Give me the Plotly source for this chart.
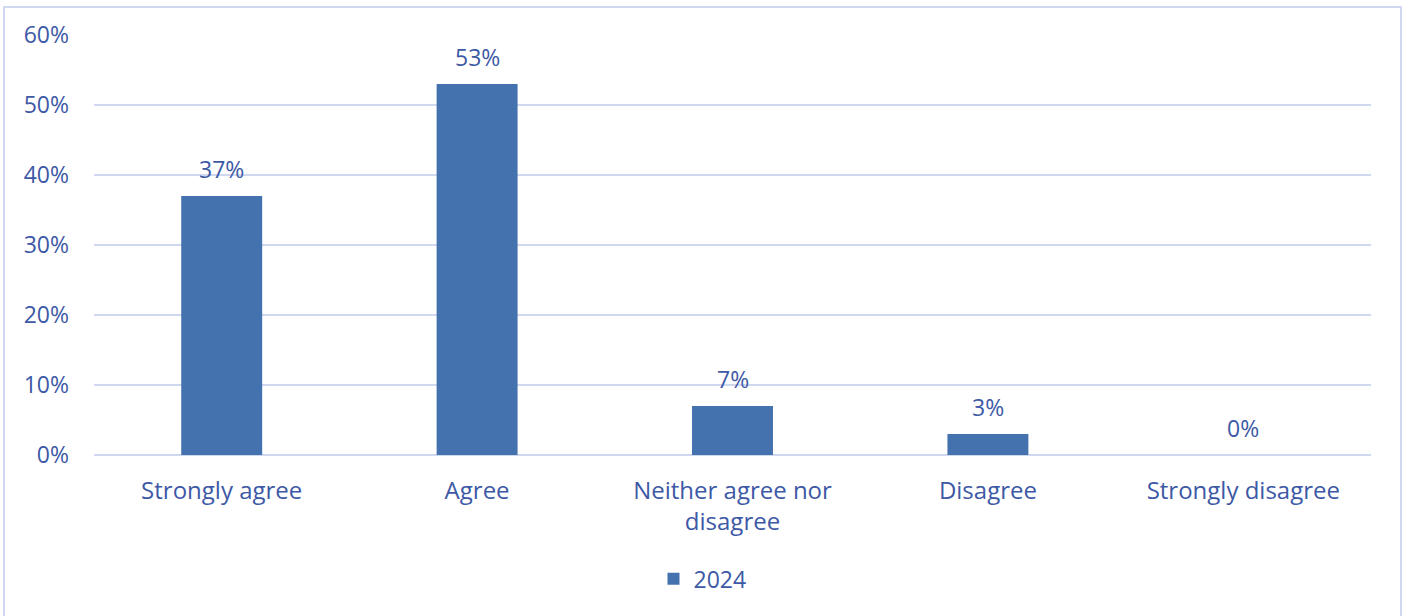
import plotly.graph_objects as go

categories = ["Strongly agree", "Agree", "Neither agree nor<br>disagree", "Disagree", "Strongly disagree"]
values_2024 = [37, 53, 7, 3, 0]
tick_vals = [0, 10, 20, 30, 40, 50, 60]
tick_text = ["0%", "10%", "20%", "30%", "40%", "50%", "60%"]

TEXT = "#3d59a6"
GRID = "#d0d8ef"
BAR = "#4472ae"
FONT = "Open Sans"

fig = go.Figure()
fig.add_trace(go.Bar(
    x=categories, y=values_2024, name="2024",
    marker=dict(color=BAR, line=dict(width=0)),
    hoverinfo="skip",
))

# value labels above each bar
for c, v in zip(categories, values_2024):
    fig.add_annotation(x=c, y=v, text=f"{v}%", showarrow=False,
                       yanchor="bottom", yshift=9,
                       font=dict(family=FONT, size=23, color=TEXT))

fig.update_layout(
    width=1407, height=616,
    margin=dict(l=94, r=36, t=35, b=161),
    paper_bgcolor="white", plot_bgcolor="white",
    bargap=0.683,
    font=dict(family=FONT, size=23, color=TEXT),
    showlegend=True,
    legend=dict(orientation="h", x=0.4765, xanchor="center", y=-0.295, yanchor="middle",
                font=dict(family=FONT, size=23, color=TEXT), itemwidth=30),
    xaxis=dict(showgrid=False, showline=False, ticks="", ticklabelstandoff=19,
               tickfont=dict(size=24, color=TEXT)),
    yaxis=dict(range=[0, 60], tickvals=tick_vals, ticktext=tick_text,
               showgrid=True, gridcolor=GRID, gridwidth=2, zeroline=True,
               zerolinecolor=GRID, zerolinewidth=2, showline=False, ticks="",
               ticklabelstandoff=24, tickfont=dict(size=23, color=TEXT)),
    shapes=[dict(type="rect", xref="paper", yref="paper",
                 x0=(4 - 94) / 1277, x1=(1401 - 94) / 1277, y0=-0.4, y1=(455 - 7) / 420,
                 line=dict(color=GRID, width=2), fillcolor="rgba(0,0,0,0)", layer="below")],
)

fig.write_html("out.html")
